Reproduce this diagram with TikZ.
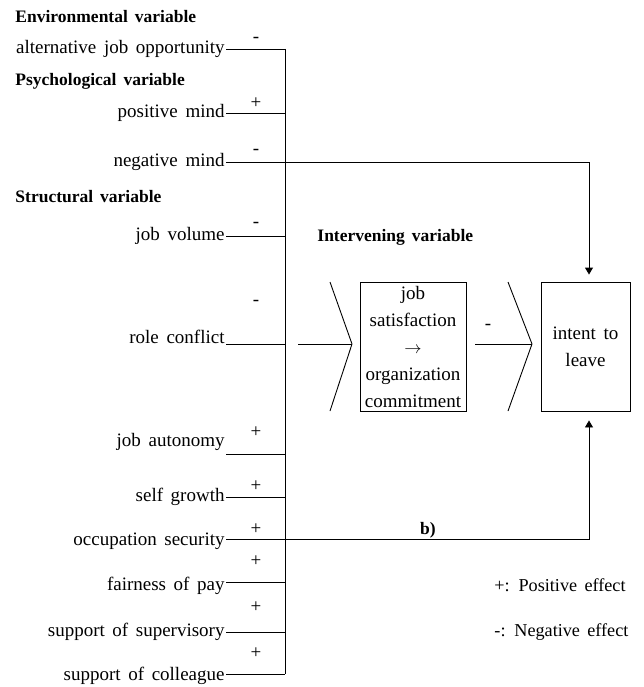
\documentclass[tikz,border=0pt]{standalone}
\usepackage{fontspec}
\setmainfont[WordSpace=1.6]{Liberation Serif}
\usetikzlibrary{arrows.meta}

\newcommand{\mainsize}{\fontsize{19}{23}\selectfont}
\newcommand{\headsize}{\fontsize{17.5}{20}\selectfont\bfseries}

\tikzset{
  lbl/.style={anchor=east, inner sep=0pt},
  hdr/.style={anchor=west, inner sep=0pt, font=\headsize},
  sgn/.style={inner sep=0pt},
  legend/.style={anchor=west, inner sep=0pt, font=\fontsize{18.2}{22}\selectfont},
  varbox/.style={draw, minimum height=129pt, align=center, inner sep=0pt,
    font=\fontsize{19}{27}\selectfont},
  effect/.style={-{Triangle[length=7pt,width=8pt]}},
}

\begin{document}
\begin{tikzpicture}[x=1pt, y=-1pt, line width=0.9pt, font=\mainsize]
\useasboundingbox (0,0) rectangle (643,687);

% group headings
\node[hdr] (env) at (15,17) {Environmental variable};
\node[hdr] (psy) at (15,81) {Psychological variable};
\node[hdr] (str) at (15,197) {Structural variable};

% collecting line
\coordinate (bustop) at (285,49);
\coordinate (busbot) at (285,674);
\draw (bustop) -- (busbot);

% independent variables with their signs
\foreach \name/\txt/\ty/\ly/\sy/\sg in {
  alt/alternative job opportunity/49/49/40/-,
  pm/positive mind/113/113/103/+,
  nm/negative mind/162/162/152/-,
  jv/job volume/236/236/225/-,
  rc/role conflict/337/344/303/-,
  ja/job autonomy/442/454/432/+,
  sg/self growth/497/497/486/+,
  os/occupation security/541/539/529/+,
  fp/fairness of pay/586/582/561/+,
  ss/support of supervisory/632/632/607/+,
  sc/support of colleague/676/674/653/+}
{
  \node[lbl] (\name) at (225,\ty) {\txt};
  \coordinate (\name-l) at (226,\ly);
  \draw (\name-l) -- (\name-l -| bustop);
  \node[sgn] (\name-s) at (256,\sy) {\sg};
}

% intervening variable
\node[hdr] (intv) at (317,237) {Intervening variable};
\coordinate (ch1) at (352,344);
\coordinate (rcgo) at (298,344);
\draw (330,282) -- (ch1) -- (330,411);
\draw (rcgo) -- (ch1);
\node[varbox, minimum width=106pt] (js) at (413,346.5)
  {job\\satisfaction\\$\rightarrow$\\organization\\commitment};

% dependent variable
\coordinate (ch2) at (532,344);
\coordinate (jsout) at (475,344);
\draw (508,282) -- (ch2) -- (508,411);
\draw (jsout) -- (ch2);
\node[sgn] (js-s) at (488,327) {-};
\node[varbox, minimum width=89pt] (itl) at (585.5,346.5) {intent to\\leave};

% direct effects
\draw[effect, shorten >=7pt] (nm-l) -| ([xshift=3.5pt]itl.north);
\draw[effect, shorten >=9pt] (os-l) -| ([xshift=3.5pt]itl.south);
\node[font=\headsize, inner sep=0pt] (b) at (428,530) {b)};

% legend
\node[legend] (pos) at (494,585) {+: Positive effect};
\node[legend] (neg) at (494,632) {-: Negative effect};

\end{tikzpicture}
\end{document}
